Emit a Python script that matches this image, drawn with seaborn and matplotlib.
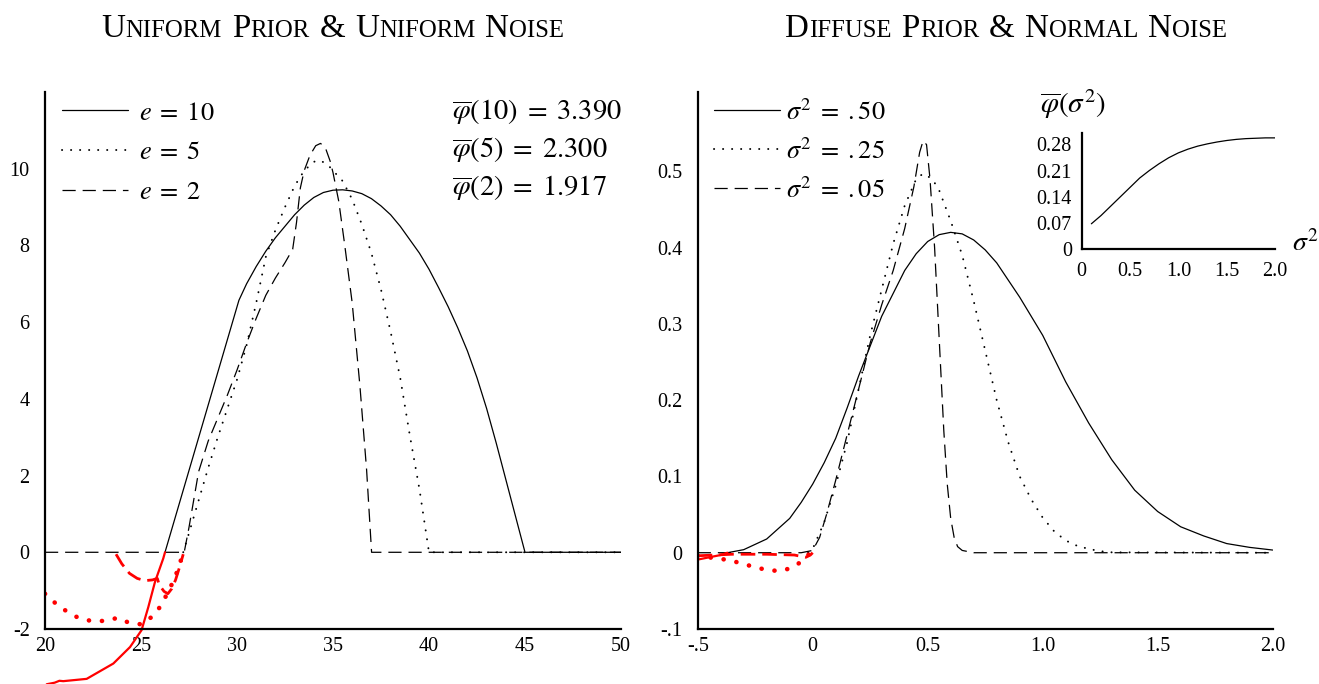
import matplotlib
matplotlib.use("Agg")
import matplotlib.pyplot as plt
import seaborn as sns

# ---- left panel: uniform prior & uniform noise ----
e10_x = [26.25, 30.1, 30.5, 31.0, 31.5, 32.0, 32.5, 33.0, 33.5, 34.0, 34.5, 35.0, 35.5,
         36.0, 36.5, 37.0, 37.5, 38.0, 38.5, 39.0, 39.5, 40.0, 40.5, 41.0, 41.5, 42.0,
         42.5, 43.0, 43.5, 44.0, 44.5, 45.0, 50.0]
e10_y = [0.0, 6.57, 7.0, 7.45, 7.85, 8.2, 8.5, 8.8, 9.05, 9.25, 9.38, 9.44, 9.45,
         9.42, 9.35, 9.22, 9.03, 8.8, 8.5, 8.15, 7.8, 7.38, 6.9, 6.4, 5.85, 5.25,
         4.55, 3.75, 2.85, 1.9, 0.95, 0.0, 0.0]
e5_x = [27.2, 27.5, 28.0, 28.5, 29.0, 29.5, 30.0, 30.5, 31.0, 31.5, 32.0, 32.5, 33.0,
        33.5, 34.0, 34.3, 34.7, 35.0, 35.5, 36.0, 36.5, 37.0, 37.5, 38.0, 38.5, 39.0,
        39.5, 40.0, 50.0]
e5_y = [0.0, 0.5, 1.35, 2.2, 3.0, 3.75, 4.5, 5.4, 6.5, 7.7, 8.4, 9.0, 9.55,
        9.95, 10.18, 10.22, 10.12, 9.95, 9.68, 9.2, 8.55, 7.8, 6.85, 5.75, 4.55, 3.05,
        1.65, 0.0, 0.0]
e2_x = [20.0, 27.25, 27.5, 28.0, 28.5, 29.0, 29.5, 30.0, 30.5, 31.0, 31.5, 32.0, 32.5,
        32.9, 33.1, 33.3, 33.5, 33.8, 34.1, 34.35, 34.6, 34.85, 35.0, 35.3, 35.6, 36.0,
        36.4, 36.75, 37.01, 50.0]
e2_y = [0.0, 0.0, 0.65, 2.1, 2.9, 3.5, 4.1, 4.75, 5.45, 6.1, 6.7, 7.15, 7.55,
        7.9, 8.6, 9.5, 9.95, 10.35, 10.6, 10.66, 10.55, 10.2, 9.9, 9.15, 8.05, 6.5,
        4.35, 2.15, 0.0, 0.0]

# negative parts (red)
e10_neg_x = [20.09, 20.5, 20.75, 20.95, 22.17, 23.56, 24.43, 25.03, 25.38, 25.73, 26.16, 26.25]
e10_neg_y = [-3.44, -3.40, -3.35, -3.36, -3.3, -2.9, -2.47, -2.03, -1.43, -0.77, -0.16, 0.0]
e5_neg_x = [20.0, 20.57, 21.13, 21.74, 22.4, 23.09, 23.79, 24.34, 25.03, 25.6, 26.03,
            26.34, 26.65, 26.91, 27.12, 27.2]
e5_neg_y = [-1.08, -1.34, -1.54, -1.71, -1.79, -1.79, -1.71, -1.83, -1.88, -1.67, -1.4,
            -1.1, -0.79, -0.47, -0.14, 0.0]
e2_neg_x = [23.7, 24.0, 24.4, 24.8, 25.2, 25.6, 25.85, 25.95, 26.2, 26.4, 26.6, 26.8, 27.0, 27.2]
e2_neg_y = [-0.05, -0.3, -0.55, -0.68, -0.74, -0.72, -0.68, -0.85, -1.02, -1.08, -0.95,
            -0.72, -0.4, -0.05]

left_xticks = [20, 25, 30, 35, 40, 45, 50]
left_yticks = [-2, 0, 2, 4, 6, 8, 10]
left_ylabels = ["-2", "0", "2", "4", "6", "8", "10"]
left_means = [r"$\overline{\varphi}(10)\;=\;3.390$", r"$\overline{\varphi}(5)\;=\;2.300$",
              r"$\overline{\varphi}(2)\;=\;1.917$"]

# ---- right panel: diffuse prior & normal noise ----
s50_x = [-0.371, -0.3, -0.2, -0.1, -0.05, 0.0, 0.05, 0.1, 0.15, 0.2, 0.3, 0.4, 0.45,
         0.5, 0.55, 0.6, 0.65, 0.7, 0.75, 0.8, 0.9, 1.0, 1.1, 1.2, 1.3, 1.4, 1.5, 1.6,
         1.7, 1.8, 1.9, 2.0]
s50_y = [0.0, 0.004, 0.018, 0.045, 0.066, 0.09, 0.118, 0.15, 0.19, 0.232, 0.31, 0.37,
         0.392, 0.408, 0.417, 0.42, 0.418, 0.41, 0.397, 0.38, 0.335, 0.285, 0.224, 0.17,
         0.122, 0.082, 0.054, 0.034, 0.022, 0.012, 0.007, 0.0035]
s25_x = [-0.02, 0.0, 0.05, 0.1, 0.15, 0.2, 0.25, 0.3, 0.35, 0.4, 0.45, 0.48, 0.52,
         0.55, 0.6, 0.65, 0.7, 0.75, 0.8, 0.85, 0.9, 0.95, 1.0, 1.05, 1.1, 1.15, 1.2,
         1.25, 1.3, 2.0]
s25_y = [0.0, 0.005, 0.04, 0.088, 0.145, 0.215, 0.285, 0.345, 0.405, 0.455, 0.49, 0.497,
         0.49, 0.475, 0.435, 0.39, 0.33, 0.265, 0.2, 0.145, 0.1, 0.07, 0.046, 0.028,
         0.016, 0.009, 0.005, 0.002, 0.0005, 0.0]
s05_x = [-0.5, -0.05, 0.0, 0.03, 0.06, 0.1, 0.15, 0.2, 0.25, 0.3, 0.35, 0.4, 0.44,
         0.465, 0.48, 0.495, 0.51, 0.53, 0.55, 0.57, 0.585, 0.6, 0.615, 0.63, 0.65, 0.7, 2.0]
s05_y = [0.0, 0.0, 0.003, 0.02, 0.05, 0.095, 0.155, 0.215, 0.275, 0.325, 0.37, 0.425,
         0.48, 0.525, 0.54, 0.535, 0.49, 0.40, 0.28, 0.16, 0.09, 0.045, 0.02, 0.008,
         0.003, 0.0, 0.0]

s50_neg_x = [-0.5, -0.45, -0.4, -0.371]
s50_neg_y = [-0.009, -0.006, -0.003, 0.0]
s25_neg_x = [-0.5, -0.429, -0.367, -0.309, -0.251, -0.193, -0.135, -0.077, -0.033, -0.01]
s25_neg_y = [-0.004, -0.007, -0.0095, -0.014, -0.019, -0.023, -0.024, -0.018, -0.007, 0.0]
s05_neg_x = [-0.5, -0.35, -0.2, -0.08, -0.03, -0.01, 0.0]
s05_neg_y = [-0.004, -0.002, -0.002, -0.003, -0.006, -0.003, 0.0]

right_xticks = [-0.5, 0, 0.5, 1.0, 1.5, 2.0]
right_xlabels = ["-.5", "0", "0.5", "1.0", "1.5", "2.0"]
right_yticks = [-0.1, 0, 0.1, 0.2, 0.3, 0.4, 0.5]
right_ylabels = ["-.1", "0", "0.1", "0.2", "0.3", "0.4", "0.5"]

# inset: mean of phi against sigma^2
inset_x = [0.1, 0.2, 0.3, 0.4, 0.5, 0.6, 0.7, 0.8, 0.9, 1.0, 1.1, 1.2, 1.3, 1.4, 1.5,
           1.6, 1.7, 1.8, 1.9, 2.0]
inset_y = [0.068, 0.09, 0.115, 0.14, 0.165, 0.19, 0.21, 0.228, 0.244, 0.257, 0.267,
           0.275, 0.281, 0.286, 0.29, 0.293, 0.295, 0.296, 0.297, 0.297]
inset_xticks = [0, 0.5, 1.0, 1.5, 2.0]
inset_xlabels = ["0", "0.5", "1.0", "1.5", "2.0"]
inset_yticks = [0, 0.07, 0.14, 0.21, 0.28]
inset_ylabels = ["0", "0.07", "0.14", "0.21", "0.28"]

sns.set_theme(style="white")
plt.rcParams["font.family"] = ["Liberation Serif", "DejaVu Serif"]
plt.rcParams["mathtext.fontset"] = "stix"
plt.rcParams["lines.scale_dashes"] = False
plt.rcParams["text.color"] = "black"

SOLID = dict(color="black", lw=0.9, linestyle="-")
DOT = dict(color="black", lw=1.4, linestyle=(0, (0.1, 6.4)), dash_capstyle="round")
DASH = dict(color="black", lw=0.9, linestyle=(0, (9.5, 5)))
RSOLID = dict(color="red", lw=1.6, linestyle="-")
RDOT = dict(color="red", lw=3.3, linestyle=(0, (0.1, 9.3)), dash_capstyle="round")
RDASH = dict(color="red", lw=2.0, linestyle=(0, (10.5, 5)))

fig = plt.figure(figsize=(13.19, 6.84), dpi=100)
W, H = 1319.0, 684.0
ax1 = fig.add_axes([45 / W, 55 / H, 576 / W, 537 / H])
ax2 = fig.add_axes([697.7 / W, 55 / H, 575 / W, 537 / H])


def style_axes(ax, fs=14.5, ypad=11, xpad=6):
    sns.despine(ax=ax)
    for side in ("left", "bottom"):
        ax.spines[side].set_linewidth(1.6)
        ax.spines[side].set_color("black")
    ax.tick_params(length=0, labelsize=fs, colors="black")
    ax.tick_params(axis="y", pad=ypad)
    ax.tick_params(axis="x", pad=xpad)


# left panel
sns.lineplot(x=e10_x, y=e10_y, ax=ax1, label="$e\\;=\\;10$", errorbar=None, **SOLID)
sns.lineplot(x=e5_x, y=e5_y, ax=ax1, label="$e\\;=\\;5$", errorbar=None, **DOT)
sns.lineplot(x=e2_x, y=e2_y, ax=ax1, label="$e\\;=\\;2$", errorbar=None, **DASH)
sns.lineplot(x=e10_neg_x, y=e10_neg_y, ax=ax1, errorbar=None, clip_on=False, **RSOLID)
sns.lineplot(x=e5_neg_x, y=e5_neg_y, ax=ax1, errorbar=None, **RDOT)
sns.lineplot(x=e2_neg_x, y=e2_neg_y, ax=ax1, errorbar=None, **RDASH)
ax1.set_xlim(20, 50)
ax1.set_ylim(-2, 12)
ax1.set_xticks(left_xticks)
ax1.set_xticklabels([str(t) for t in left_xticks])
ax1.set_yticks(left_yticks)
ax1.set_yticklabels(left_ylabels)
style_axes(ax1)
h, l = ax1.get_legend_handles_labels()
ax1.legend(h[:3], l[:3], loc="upper left", bbox_to_anchor=(0.03, 0.983), frameon=False,
           fontsize=19, handlelength=2.5, handletextpad=0.4, labelspacing=0.62,
           borderaxespad=0, borderpad=0)
for i, txt in enumerate(left_means):
    ax1.text(0.7066, 0.963 - 0.071 * i, txt, transform=ax1.transAxes, fontsize=20.5,
             ha="left", va="center")

# right panel
sns.lineplot(x=s50_x, y=s50_y, ax=ax2, label="$\\sigma^2\\;=\\;.50$", errorbar=None, **SOLID)
sns.lineplot(x=s25_x, y=s25_y, ax=ax2, label="$\\sigma^2\\;=\\;.25$", errorbar=None, **DOT)
sns.lineplot(x=s05_x, y=s05_y, ax=ax2, label="$\\sigma^2\\;=\\;.05$", errorbar=None, **DASH)
sns.lineplot(x=s50_neg_x, y=s50_neg_y, ax=ax2, errorbar=None, **RSOLID)
sns.lineplot(x=s25_neg_x, y=s25_neg_y, ax=ax2, errorbar=None, **RDOT)
sns.lineplot(x=s05_neg_x, y=s05_neg_y, ax=ax2, errorbar=None, **RDASH)
ax2.set_xlim(-0.5, 2.0)
ax2.set_ylim(-0.1, 0.604)
ax2.set_xticks(right_xticks)
ax2.set_xticklabels(right_xlabels)
ax2.set_yticks(right_yticks)
ax2.set_yticklabels(right_ylabels)
style_axes(ax2)
h, l = ax2.get_legend_handles_labels()
ax2.legend(h[:3], l[:3], loc="upper left", bbox_to_anchor=(0.028, 0.987), frameon=False,
           fontsize=19, handlelength=2.5, handletextpad=0.22, labelspacing=0.5,
           borderaxespad=0, borderpad=0)

# inset
ax3 = fig.add_axes([1081.7 / W, (H - 249.3) / H, 193.3 / W, 116.3 / H])
sns.lineplot(x=inset_x, y=inset_y, ax=ax3, errorbar=None, **SOLID)
ax3.set_xlim(0, 2.0)
ax3.set_ylim(0, 0.31)
ax3.set_xticks(inset_xticks)
ax3.set_xticklabels(inset_xlabels)
ax3.set_yticks(inset_yticks)
ax3.set_yticklabels(inset_ylabels)
style_axes(ax3, fs=14.5, ypad=7, xpad=9)
ax3.text(-0.215, 1.25, r"$\overline{\varphi}(\sigma^2)$", transform=ax3.transAxes,
         fontsize=21, ha="left", va="center")
ax3.text(1.09, 0.05, r"$\sigma^2$", transform=ax3.transAxes, fontsize=20,
         ha="left", va="center")


def small_caps_title(text, x_center, y_base, big=23.8, small=17.8, gap=10):
    renderer = fig.canvas.get_renderer()
    items = []
    for k, word in enumerate(text.split(" ")):
        if k:
            items.append((None, gap))
        t = fig.text(0, y_base / H, word[0], fontsize=big, va="baseline", ha="left")
        items.append((t, t.get_window_extent(renderer).width))
        if len(word) > 1:
            t = fig.text(0, y_base / H, word[1:].upper(), fontsize=small,
                         va="baseline", ha="left")
            items.append((t, t.get_window_extent(renderer).width))
    x = x_center - sum(w for _, w in items) / 2
    for t, w in items:
        if t is not None:
            t.set_x(x / W)
        x += w


fig.canvas.draw()
small_caps_title("Uniform Prior & Uniform Noise", 333, H - 37)
small_caps_title("Diffuse Prior & Normal Noise", 1006, H - 37)

fig.savefig("out.png", dpi=100)
